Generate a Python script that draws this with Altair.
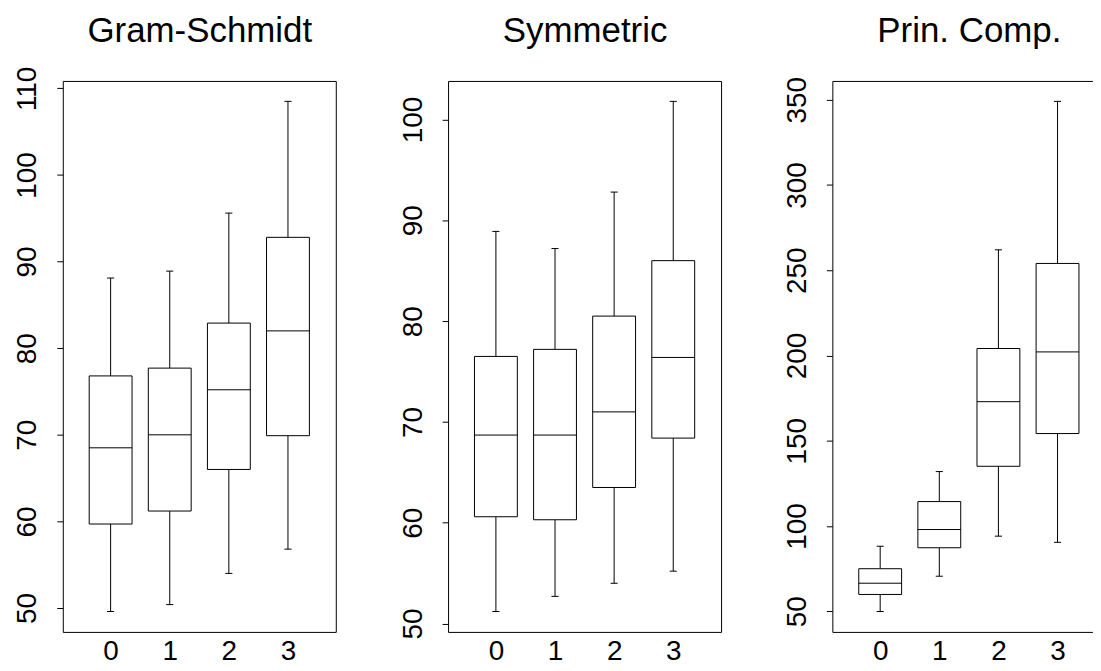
import altair as alt
import pandas as pd

groups = [0, 1, 2, 3]

titles = ["Gram-Schmidt", "Symmetric", "Prin. Comp."]

# Gram-Schmidt
gs_min = [49.6, 50.4, 54.0, 56.8]
gs_q1 = [59.7, 61.2, 66.0, 69.9]
gs_med = [68.5, 70.0, 75.2, 82.0]
gs_q3 = [76.8, 77.7, 82.9, 92.8]
gs_max = [88.1, 88.9, 95.6, 108.5]
gs_ticks = [50, 60, 70, 80, 90, 100, 110]

# Symmetric
sy_min = [51.2, 52.7, 54.0, 55.2]
sy_q1 = [60.6, 60.3, 63.5, 68.4]
sy_med = [68.7, 68.7, 71.0, 76.4]
sy_q3 = [76.5, 77.2, 80.5, 86.0]
sy_max = [88.9, 87.2, 92.8, 101.8]
sy_ticks = [50, 60, 70, 80, 90, 100]

# Principal components
pc_min = [49.8, 70.5, 94.0, 90.4]
pc_q1 = [59.8, 87.2, 135.0, 154.2]
pc_med = [66.4, 97.9, 172.9, 202.1]
pc_q3 = [74.9, 114.3, 204.1, 254.0]
pc_max = [88.1, 131.9, 262.0, 349.1]
pc_ticks = [50, 100, 150, 200, 250, 300, 350]

FONT = "Liberation Sans"
HALF_BOX = 0.3625
HALF_CAP = 0.06
X_LO = -0.809
PX_UNIT = 4.618 / 274


def panel(title, mins, q1, med, q3, maxs, ticks, width=274, cropped=False):
    df = pd.DataFrame({"g": groups, "lo": mins, "q1": q1, "med": med,
                       "q3": q3, "hi": maxs})
    r = max(maxs) - min(mins)
    ydom = [min(mins) - 0.04 * r, max(maxs) + 0.04 * r]
    xscale = alt.Scale(domain=[X_LO, X_LO + width * PX_UNIT], nice=False, zero=False)
    yscale = alt.Scale(domain=ydom, nice=False, zero=False)
    xaxis = alt.Axis(values=groups, format="d", ticks=False, tickSize=0,
                     domain=cropped, domainColor="black", domainWidth=1,
                     grid=False, labelFontSize=28,
                     labelPadding=28, labelBaseline="alphabetic",
                     labelColor="black", labelFont=FONT, labelFlush=False)
    topaxis = alt.Axis(orient="top", labels=False, ticks=False, tickSize=0,
                       domain=cropped, domainColor="black", domainWidth=1,
                       grid=False, title=title, titleFont=FONT,
                       titleFontSize=35, titleFontWeight="normal",
                       titleColor="black", titleBaseline="alphabetic",
                       titlePadding=40, titleAlign="center", titleX=137)
    yaxis = alt.Axis(values=ticks, format="d", ticks=True, tickSize=6,
                     tickColor="black", tickWidth=1, domain=cropped,
                     domainColor="black", domainWidth=1, grid=False,
                     labelFontSize=28, labelAngle=270, labelAlign="center",
                     labelBaseline="alphabetic", labelPadding=21,
                     labelColor="black", labelFont=FONT, labelFlush=False,
                     labelOverlap=False, minExtent=54, maxExtent=54)

    def X(f, axis=None):
        return alt.X(f, type="quantitative", scale=xscale, axis=axis, title=None)

    def Y(f):
        return alt.Y(f, type="quantitative", scale=yscale, axis=yaxis, title=None)

    base = alt.Chart(df).transform_calculate(
        bl=f"datum.g - {HALF_BOX}", br=f"datum.g + {HALF_BOX}",
        cl=f"datum.g - {HALF_CAP}", cr=f"datum.g + {HALF_CAP}")
    line = dict(color="black", strokeWidth=1)
    w_lo = base.mark_rule(**line).encode(x=X("g", xaxis), y=Y("lo"), y2="q1")
    w_hi = base.mark_rule(**line).encode(x=X("g", topaxis), y=Y("q3"), y2="hi")
    box = base.mark_rect(fill="white", stroke="black", strokeWidth=1).encode(
        x=X("bl"), x2="br", y=Y("q1"), y2="q3")
    mid = base.mark_rule(**line).encode(x=X("bl"), x2="br", y=Y("med"))
    c_lo = base.mark_rule(**line).encode(x=X("cl"), x2="cr", y=Y("lo"))
    c_hi = base.mark_rule(**line).encode(x=X("cl"), x2="cr", y=Y("hi"))
    props = dict(width=width, height=553)
    if cropped:
        props["view"] = alt.ViewBackground(stroke=None)
    return alt.layer(w_lo, w_hi, box, mid, c_lo, c_hi).resolve_axis(
        x="independent").properties(**props)


chart = alt.hconcat(
    panel(titles[0], gs_min, gs_q1, gs_med, gs_q3, gs_max, gs_ticks),
    panel(titles[1], sy_min, sy_q1, sy_med, sy_q3, sy_max, sy_ticks),
    panel(titles[2], pc_min, pc_q1, pc_med, pc_q3, pc_max, pc_ticks,
          width=261, cropped=True),
    spacing=56.7,
).properties(
    padding={"left": 0, "top": 3, "right": 0, "bottom": 0},
    background="white",
).configure_view(stroke="black", strokeWidth=1)

chart.save("out.html", embed_options={"renderer": "svg", "actions": False})
